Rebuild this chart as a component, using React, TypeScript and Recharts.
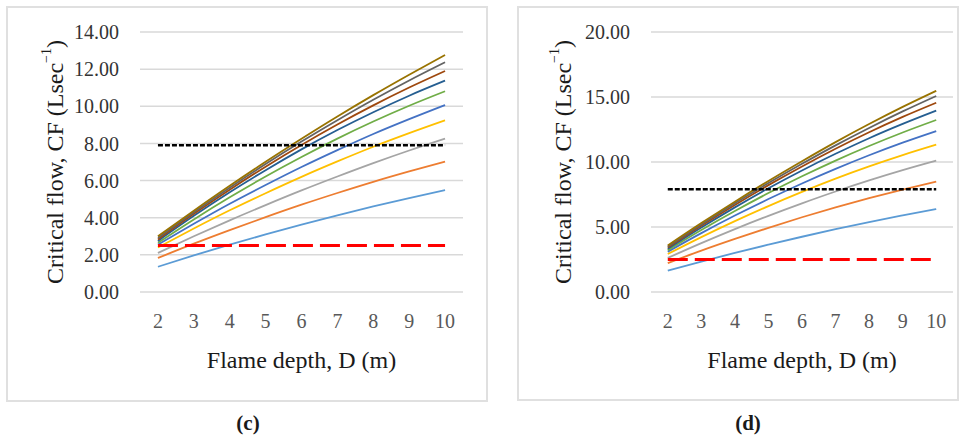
import React from 'react';
import { LineChart, Line, XAxis, YAxis, CartesianGrid } from 'recharts';

// Flame depth D (m)
const depths = [2, 3, 4, 5, 6, 7, 8, 9, 10];

// Panel (c) critical flow series
const c1 = [1.36, 1.97, 2.55, 3.10, 3.63, 4.13, 4.61, 5.06, 5.49];
const c2 = [1.83, 2.60, 3.33, 4.03, 4.70, 5.33, 5.93, 6.49, 7.02];
const c3 = [2.10, 3.00, 3.86, 4.68, 5.47, 6.22, 6.94, 7.62, 8.26];
const c4 = [2.40, 3.42, 4.40, 5.32, 6.20, 7.03, 7.82, 8.55, 9.24];
const c5 = [2.55, 3.67, 4.75, 5.76, 6.73, 7.64, 8.51, 9.31, 10.07];
const c6 = [2.65, 3.91, 5.10, 6.22, 7.27, 8.26, 9.18, 10.03, 10.81];
const c7 = [2.75, 4.10, 5.37, 6.56, 7.68, 8.72, 9.68, 10.57, 11.38];
const c8 = [2.83, 4.21, 5.51, 6.75, 7.92, 9.02, 10.05, 11.01, 11.90];
const c9 = [2.92, 4.30, 5.62, 6.89, 8.10, 9.25, 10.35, 11.39, 12.37];
const c10 = [3.00, 4.38, 5.72, 7.01, 8.25, 9.45, 10.60, 11.70, 12.76];
const cUpper = 7.9;
const cLower = 2.5;

// Panel (d) critical flow series
const d1 = [1.64, 2.34, 3.01, 3.64, 4.25, 4.83, 5.38, 5.89, 6.38];
const d2 = [2.22, 3.18, 4.08, 4.94, 5.75, 6.51, 7.22, 7.88, 8.49];
const d3 = [2.62, 3.76, 4.84, 5.86, 6.82, 7.73, 8.58, 9.37, 10.10];
const d4 = [2.92, 4.22, 5.45, 6.61, 7.70, 8.72, 9.66, 10.53, 11.33];
const d5 = [3.10, 4.53, 5.88, 7.15, 8.35, 9.47, 10.52, 11.49, 12.38];
const d6 = [3.22, 4.77, 6.23, 7.61, 8.90, 10.11, 11.23, 12.27, 13.23];
const d7 = [3.32, 4.96, 6.51, 7.98, 9.35, 10.63, 11.83, 12.93, 13.95];
const d8 = [3.42, 5.10, 6.70, 8.22, 9.66, 11.02, 12.29, 13.47, 14.56];
const d9 = [3.50, 5.20, 6.83, 8.38, 9.86, 11.28, 12.62, 13.89, 15.08];
const d10 = [3.58, 5.30, 6.95, 8.54, 10.06, 11.53, 12.92, 14.24, 15.48];
const dUpper = 7.9;
const dLower = 2.5;

const cTicks = [0, 2, 4, 6, 8, 10, 12, 14];
const dTicks = [0, 5, 10, 15, 20];

const colors = ['#5B9BD5', '#ED7D31', '#A5A5A5', '#FFC000', '#4472C4', '#70AD47', '#255E91', '#9E480E', '#636363', '#997300'];

const FONT = '"Liberation Serif", "Times New Roman", serif';

const build = (series: number[][], upper: number, lower: number) =>
  depths.map((d, i) => {
    const row: any = { D: d, upper, lower };
    series.forEach((s, k) => { row['s' + (k + 1)] = s[i]; });
    return row;
  });

const cData = build([c1, c2, c3, c4, c5, c6, c7, c8, c9, c10], cUpper, cLower);
const dData = build([d1, d2, d3, d4, d5, d6, d7, d8, d9, d10], dUpper, dLower);

const YTitle = (props: any) => {
  const vb = props.viewBox || {};
  const cx = props.tx;
  const cy = vb.y + vb.height / 2;
  return (
    <text x={cx} y={cy} transform={`rotate(-90 ${cx} ${cy})`} textAnchor="middle" dominantBaseline="central"
      style={{ fontFamily: FONT }} fontSize={24} fill="#1a1a1a">
      Critical flow, CF (Lsec<tspan fontSize={14} dy={-9}>−1</tspan><tspan dy={9}>)</tspan>
    </text>
  );
};

const XTitle = (props: any) => {
  const vb = props.viewBox || {};
  const cx = vb.x + vb.width / 2;
  return (
    <text x={cx} y={props.ty} textAnchor="middle" style={{ fontFamily: FONT }} fontSize={24} fill="#1a1a1a">
      Flame depth, D (m)
    </text>
  );
};

type PanelProps = {
  data: any[];
  width: number;
  height: number;
  rightMargin: number;
  yMax: number;
  yTicks: number[];
  yTitleX: number;
};

const Panel = ({ data, width, height, rightMargin, yMax, yTicks, yTitleX }: PanelProps) => (
  <LineChart width={width} height={height} data={data} margin={{ top: 25, right: rightMargin, left: 0, bottom: 0 }}
    style={{ fontFamily: FONT }}>
    <CartesianGrid vertical={false} stroke="#d9d9d9" strokeWidth={1.5} />
    <XAxis dataKey="D" type="number" domain={[1.5, 10.5]} ticks={depths} axisLine={false} tickLine={false}
      tickSize={0} tickMargin={22} height={height - 285} interval={0}
      tick={{ fill: '#595959', fontSize: 20, fontFamily: FONT }}
      label={{ content: (p: any) => <XTitle {...p} ty={361} /> }} />
    <YAxis type="number" domain={[0, yMax]} ticks={yTicks} axisLine={false} tickLine={false} tickSize={0}
      tickMargin={21} width={133} interval={0}
      tickFormatter={(v: number) => v.toFixed(2)}
      tick={{ fill: '#333333', fontSize: 20, fontFamily: FONT }}
      label={{ content: (p: any) => <YTitle {...p} tx={yTitleX} /> }} />
    {colors.map((c, k) => (
      <Line key={k} dataKey={'s' + (k + 1)} stroke={c} strokeWidth={1.8} dot={false} isAnimationActive={false} type="monotone" />
    ))}
    <Line dataKey="upper" stroke="#000000" strokeWidth={2.6} strokeDasharray="5 2" dot={false} isAnimationActive={false} />
    <Line dataKey="lower" stroke="#FF0000" strokeWidth={3} strokeDasharray="20 7" dot={false} isAnimationActive={false} />
  </LineChart>
);

const border = '2px solid #e0e0e0';

export default function App() {
  return (
    <div style={{ position: 'absolute', left: 0, top: 0, width: 960, height: 436, background: '#ffffff', overflow: 'hidden', fontFamily: FONT }}>
      <div style={{ position: 'absolute', left: 6, top: 6, width: 482, height: 396, border, boxSizing: 'border-box' }} />
      <div style={{ position: 'absolute', left: 7, top: 7 }}>
        <Panel data={cData} width={481} height={395} rightMargin={25} yMax={14} yTicks={cTicks} yTitleX={48} />
      </div>
      <div style={{ position: 'absolute', left: 517, top: 6, width: 442, height: 395, border, boxSizing: 'border-box' }} />
      <div style={{ position: 'absolute', left: 518, top: 7 }}>
        <Panel data={dData} width={440} height={393} rightMargin={5} yMax={20} yTicks={dTicks} yTitleX={45} />
      </div>
      <div style={{ position: 'absolute', left: 198, top: 410, width: 100, textAlign: 'center', fontSize: 21, fontWeight: 'bold', color: '#1a1a1a', lineHeight: '26px' }}>(c)</div>
      <div style={{ position: 'absolute', left: 698, top: 410, width: 100, textAlign: 'center', fontSize: 21, fontWeight: 'bold', color: '#1a1a1a', lineHeight: '26px' }}>(d)</div>
    </div>
  );
}
